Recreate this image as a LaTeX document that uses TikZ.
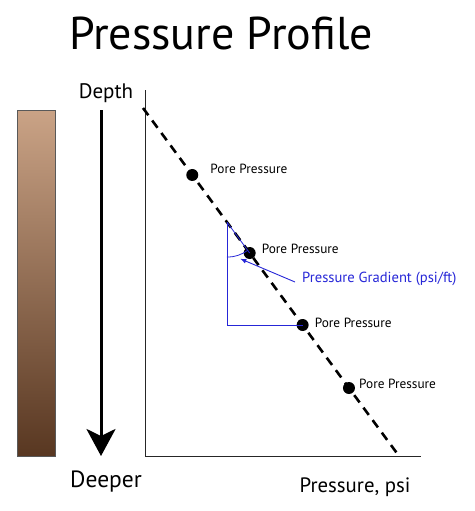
\documentclass[tikz,border=0pt]{standalone}
\usepackage{fontspec}
\setmainfont{PT Sans}
\usepackage{xcolor}
\definecolor{rocktop}{RGB}{202,163,134}
\definecolor{rockbot}{RGB}{88,55,33}
\definecolor{gradblue}{RGB}{38,38,215}
\usetikzlibrary{positioning,calc}
\usetikzlibrary{arrows.meta}
\tikzset{
  rock/.style     ={ rectangle, draw=black!65, thin, top color=rocktop, bottom color=rockbot,
                     minimum width=38pt, minimum height=346pt, inner sep=0pt },
  porept/.style   ={ circle, fill=black, inner sep=0pt, minimum size=12pt },
  porelabel/.style={ font=\fontsize{13.3}{15}\selectfont, anchor=base west, inner sep=0pt },
  axislabel/.style={ font=\fontsize{20.8}{24}\selectfont, anchor=base, inner sep=0pt },
%
  axis/.style={draw=black!85, line width=0.8pt},
  trend/.style={draw=black, line width=2.6pt, dash pattern=on 9pt off 6.5pt},
  depthflow/.style={-{Stealth[length=27pt,width=29pt,inset=7pt]}, line width=3pt},
  grad/.style={draw=gradblue, line width=0.8pt},
  gradflow/.style={-{Latex[length=6pt,width=5pt]}, draw=gradblue, line width=0.9pt}
}

\begin{document}
\begin{tikzpicture}[x=1pt,y=-1pt]
\useasboundingbox (0,0) rectangle (474,511);

\node[font=\fontsize{46}{50}\selectfont, anchor=base, inner sep=0pt] (title) at (221,50) {Pressure Profile};

% depth column
\node[rock] (rock) at (36,283) {};
\coordinate (depthtop) at (101,110);
\coordinate (depthbot) at (101,456);
\draw[depthflow] (depthtop) -- (depthbot);
\node[axislabel, font=\fontsize{21}{24}\selectfont] (depth) at (106,98) {Depth};
\node[axislabel, font=\fontsize{23.5}{26}\selectfont] (deeper) at (106,487) {Deeper};

% axes
\coordinate (ytop) at (145,90);
\coordinate (origin) at (145,456);
\coordinate (xend) at (421,456);
\draw[axis] (ytop) -- (origin) -- (xend);
\node[axislabel] (pressure) at (355,492) {Pressure, psi};

% pressure trend
\coordinate (trendtop) at (143,108);
\coordinate (trendbot) at (399,456);
\draw[trend] (trendtop) -- (trendbot);
\path (trendtop) -- (trendbot)
  node[porept, pos=0.1925] (p1) {}
  node[porept, pos=0.4167] (p2) {}
  node[porept, pos=0.6236] (p3) {}
  node[porept, pos=0.8046] (p4) {};

\node[porelabel] (l1) at ([xshift=18pt,yshift=1pt]p1.center) {Pore Pressure};
\node[porelabel] (l2) at ([xshift=12pt]p2.center) {Pore Pressure};
\node[porelabel] (l3) at ([xshift=12pt,yshift=-2pt]p3.center) {Pore Pressure};
\node[porelabel] (l4) at ([xshift=10pt]p4.center) {Pore Pressure};

% gradient triangle
\coordinate (apex) at ($(trendtop)!0.328!(trendbot)$);
\coordinate (corner) at (apex |- p3);
\draw[grad] (apex) -- (corner) -- (p3.center);
\draw[grad] (apex) -- (p2.center);
\draw[grad] ([yshift=-35pt]apex) arc[start angle=90, end angle=53.7, radius=35];
\coordinate (arcpt) at ($(apex)+(70:39)$);

\node[porelabel, font=\fontsize{14.6}{17}\selectfont, text=gradblue] (gradtxt) at (302,282) {Pressure Gradient (psi/ft)};
\draw[gradflow] ([xshift=-7pt]gradtxt.base west) -- (arcpt);

\end{tikzpicture}
\end{document}
